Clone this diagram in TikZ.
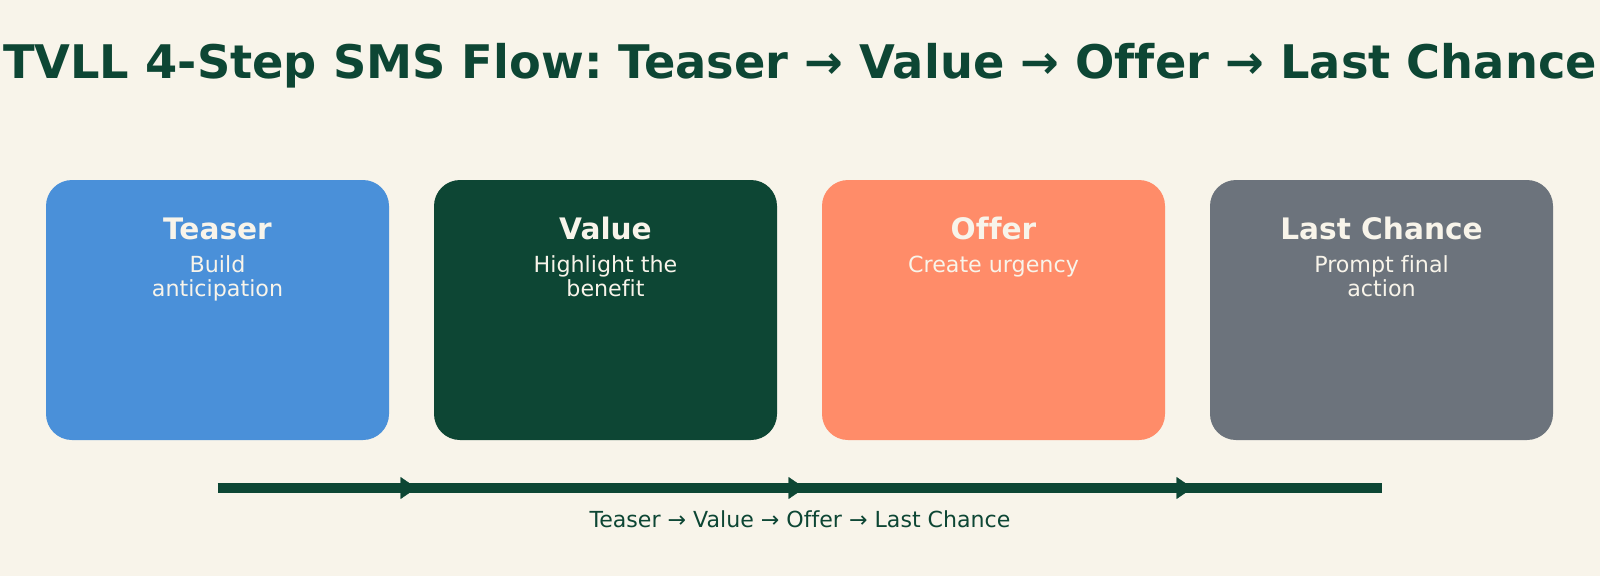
\documentclass[tikz,border=0pt]{standalone}
\usepackage{fontspec}
\setmainfont{DejaVu Sans}[Ligatures=CommonOff]
\usetikzlibrary{arrows.meta,decorations.markings}
\definecolor{bg}{HTML}{F8F4EA}
\definecolor{dkgreen}{HTML}{0D4634}
\definecolor{tblue}{HTML}{4A90D9}
\definecolor{torange}{HTML}{FF8C69}
\definecolor{tgray}{HTML}{6C737C}
\definecolor{cream}{HTML}{F8F4EA}
\frenchspacing
\begin{document}
\begin{tikzpicture}[x=1pt,y=-1pt,
  card/.style={rounded corners=26pt, minimum width=343pt, minimum height=260pt, inner sep=0pt, draw=none},
  cardtitle/.style={anchor=base, text=cream, inner sep=0pt, font=\fontsize{29.6}{35}\selectfont\bfseries},
  carddesc/.style={anchor=base, text=cream, inner sep=0pt, font=\fontsize{22.2}{26}\selectfont},
  flowline/.style={draw=dkgreen, line width=10pt},
  midarrow/.style={decorate, decoration={markings, mark=at position 0.5 with {\arrow[dkgreen,xshift=5pt]{Triangle[length=16pt,width=22pt]}}}}
]
\useasboundingbox[fill=bg] (0,0) rectangle (1600,576);

\node[anchor=base, inner sep=0pt, text=dkgreen, font=\fontsize{46.3}{52}\selectfont\bfseries] (title) at (800,78)
  {TVLL 4-Step SMS Flow: Teaser → Value → Offer → Last Chance};

\node[card, fill=tblue]   (b1) at (217.5,310) {};
\node[card, fill=dkgreen] (b2) at (605.5,310) {};
\node[card, fill=torange] (b3) at (993.5,310) {};
\node[card, fill=tgray]   (b4) at (1381.5,310) {};

\node[cardtitle] (t1) at (217.5,239) {Teaser};
\node[carddesc] (d1a) at (217.5,272) {Build};
\node[carddesc] (d1b) at (217.5,296) {anticipation};

\node[cardtitle] (t2) at (605.5,239) {Value};
\node[carddesc] (d2a) at (605.5,272) {Highlight the};
\node[carddesc] (d2b) at (605.5,296) {benefit};

\node[cardtitle] (t3) at (993.5,239) {Offer};
\node[carddesc] (d3a) at (993.5,272) {Create urgency};

\node[cardtitle] (t4) at (1381.5,239) {Last Chance};
\node[carddesc] (d4a) at (1381.5,272) {Prompt final};
\node[carddesc] (d4b) at (1381.5,296) {action};

\coordinate (c1) at (217.5,488);
\coordinate (c2) at (605.5,488);
\coordinate (c3) at (993.5,488);
\coordinate (c4) at (1381.5,488);

\draw[flowline] (c1) -- (c4);
\path[midarrow] (c1) -- (c2);
\path[midarrow] (c2) -- (c3);
\path[midarrow] (c3) -- (c4);

\node[anchor=base, inner sep=0pt, text=dkgreen, font=\fontsize{22.1}{26}\selectfont] (cap) at (800,527)
  {Teaser → Value → Offer → Last Chance};
\end{tikzpicture}
\end{document}
